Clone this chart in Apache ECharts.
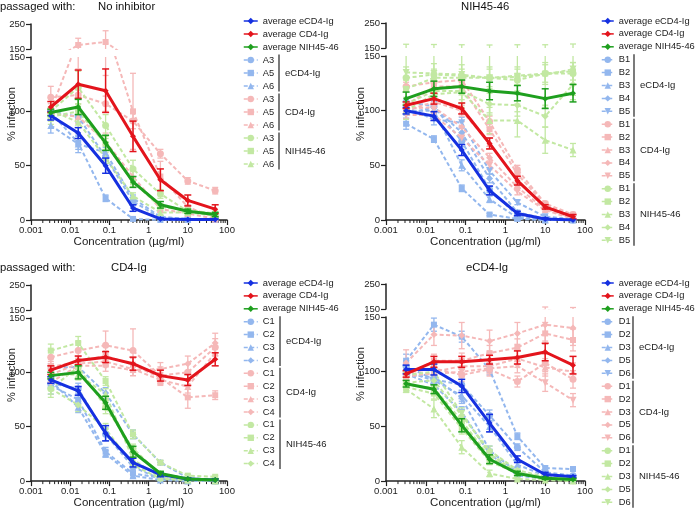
<!DOCTYPE html>
<html><head><meta charset="utf-8">
<script src="https://cdn.jsdelivr.net/npm/echarts@6/dist/echarts.min.js"></script>
<style>html,body{margin:0;padding:0;background:#fff}#c{width:696px;height:510px}</style>
</head><body><div id="c"></div>
<script>
// ---------- shared ----------
const CONC = [0.0032, 0.016, 0.08, 0.4, 2, 10, 50];
const X_TICK_LABELS = ['0.001', '0.01', '0.1', '1', '10', '100'];
const GROUPS = ['eCD4-Ig', 'CD4-Ig', 'NIH45-46'];
const AVG_NAMES = ['average eCD4-Ig', 'average CD4-Ig', 'average NIH45-46'];
const PANEL_TITLES = ['No inhibitor', 'NIH45-46', 'CD4-Ig', 'eCD4-Ig'];

// ---------- panel 1 : No inhibitor ----------
const P1_REPS = ['A3', 'A5', 'A6'];
const P1_AVG_ECD4 = [96, 80, 50, 11, 1, 0.5, 0.5];
const P1_AVG_ECD4_ERR = [4, 5, 7, 3, 1, 0.5, 0.5];
const P1_AVG_CD4 = [104, 125, 119, 77, 37, 18, 10];
const P1_AVG_CD4_ERR = [5, 13, 20, 14, 10, 5, 4];
const P1_AVG_NIH = [99, 104, 71, 35, 14, 8, 5];
const P1_AVG_NIH_ERR = [3, 7, 7, 5, 3, 2, 2];
const P1_ECD4 = [[100, 95, 58, 17, 2, 1, 1], [99, 71, 20, 1, 0, 0, 0], [87, 70, 62, 20, 3, 1, 1]];
const P1_ECD4_ERR = [[3, 5, 6, 4, 1, 1, 1], [3, 6, 3, 1, 0.5, 0.5, 0.5], [7, 8, 5, 3, 1, 1, 1]];
const P1_CD4 = [[113, 115, 107, 91, 61, 36, 27], [101, 166, 178, 100, 40, 12, 2], [98, 95, 72, 40, 10, 6, 1]];
const P1_CD4_ERR = [[10, 8, 7, 7, 4, 3, 3], [6, 27, 45, 35, 14, 5, 2], [5, 6, 8, 5, 3, 2, 1]];
const P1_NIH = [[100, 122, 87, 47, 24, 8, 5], [95, 100, 70, 35, 12, 9, 6], [101, 90, 57, 22, 7, 7, 4]];
const P1_NIH_ERR = [[12, 15, 10, 8, 4, 2, 2], [4, 6, 5, 4, 3, 2, 1], [3, 5, 5, 3, 2, 1, 1]];

// ---------- panel 2 : NIH45-46 ----------
const P2_REPS = ['B1', 'B2', 'B3', 'B4', 'B5'];
const P2_AVG_ECD4 = [100, 95, 64, 27, 6, 1, 0];
const P2_AVG_ECD4_ERR = [3, 4, 5, 4, 2, 1, 0.5];
const P2_AVG_CD4 = [105, 111, 102, 70, 36, 12, 3];
const P2_AVG_CD4_ERR = [3, 5, 5, 5, 4, 2, 2];
const P2_AVG_NIH = [111, 120, 122, 118, 116, 111, 116];
const P2_AVG_NIH_ERR = [6, 7, 6, 8, 7, 9, 8];
const P2_ECD4 = [[108, 104, 72, 28, 4, 1, 0], [88, 74, 29, 5, 1, 0, 0], [100, 100, 50, 19, 2, 0, 0], [97, 103, 80, 38, 7, 1, 0], [103, 92, 89, 45, 16, 3, 1]];
const P2_ECD4_ERR = [[4, 4, 5, 3, 1, 1, 0.5], [5, 3, 3, 1, 0.5, 0.5, 0.5], [4, 8, 5, 3, 1, 0.5, 0.5], [4, 6, 5, 4, 2, 1, 0.5], [4, 5, 5, 3, 2, 1, 0.5]];
const P2_CD4 = [[122, 126, 128, 90, 46, 15, 5], [105, 122, 122, 83, 42, 14, 4], [100, 108, 100, 70, 36, 12, 3], [102, 103, 85, 57, 30, 10, 2], [96, 96, 75, 50, 26, 9, 1]];
const P2_CD4_ERR = [[4, 6, 5, 5, 4, 2, 2], [4, 5, 6, 5, 4, 2, 1], [3, 5, 5, 5, 4, 2, 1], [3, 4, 5, 4, 3, 2, 1], [3, 4, 4, 4, 3, 2, 1]];
const P2_NIH = [[130, 133, 132, 130, 128, 134, 134], [120, 130, 130, 130, 132, 134, 136], [100, 115, 117, 91, 91, 73, 64], [106, 118, 118, 106, 105, 95, 124], [135, 134, 133, 130, 131, 133, 138]];
const P2_NIH_ERR = [[10, 10, 10, 10, 10, 10, 10], [8, 8, 8, 8, 8, 8, 8], [8, 10, 10, 12, 15, 12, 6], [6, 6, 8, 10, 10, 10, 10], [30, 30, 30, 32, 32, 30, 28]];

// ---------- panel 3 : CD4-Ig ----------
const P3_REPS = ['C1', 'C2', 'C3', 'C4'];
const P3_AVG_ECD4 = [93, 83, 44, 17, 6, 2, 1];
const P3_AVG_ECD4_ERR = [3, 4, 7, 4, 2, 1, 1];
const P3_AVG_CD4 = [102, 111, 114, 108, 97, 93, 112];
const P3_AVG_CD4_ERR = [4, 4, 5, 6, 5, 5, 6];
const P3_AVG_NIH = [97, 100, 72, 27, 7, 2, 1];
const P3_AVG_NIH_ERR = [3, 6, 6, 5, 2, 1, 1];
const P3_ECD4 = [[90, 85, 43, 13, 2, 1, 1], [88, 75, 27, 7, 3, 1, 0], [92, 68, 25, 5, 1, 0, 0], [104, 105, 81, 43, 17, 3, 1]];
const P3_ECD4_ERR = [[4, 5, 6, 3, 1, 1, 1], [8, 6, 4, 2, 1, 1, 0.5], [4, 5, 3, 2, 1, 0.5, 0.5], [4, 5, 5, 4, 2, 1, 1]];
const P3_CD4 = [[114, 120, 125, 120, 97, 100, 123], [105, 110, 115, 107, 95, 77, 79], [98, 108, 110, 103, 93, 87, 118], [91, 106, 106, 102, 103, 108, 127]];
const P3_CD4_ERR = [[6, 8, 13, 20, 8, 8, 8], [5, 5, 5, 6, 5, 10, 4], [4, 5, 5, 6, 5, 6, 6], [4, 5, 5, 5, 6, 7, 9]];
const P3_NIH = [[85, 105, 68, 30, 6, 1, 1], [120, 127, 92, 43, 17, 5, 4], [98, 98, 80, 20, 3, 1, 0], [85, 70, 48, 15, 2, 1, 0]];
const P3_NIH_ERR = [[8, 6, 6, 4, 2, 1, 1], [6, 6, 4, 4, 2, 1, 1], [5, 5, 5, 3, 1, 1, 0.5], [5, 6, 5, 3, 1, 1, 0.5]];

// ---------- panel 4 : eCD4-Ig ----------
const P4_REPS = ['D1', 'D2', 'D3', 'D5', 'D6'];
const P4_AVG_ECD4 = [102, 102, 87, 53, 20, 6, 4];
const P4_AVG_ECD4_ERR = [4, 5, 6, 8, 3, 2, 1];
const P4_AVG_CD4 = [98, 109, 109, 111, 113, 118, 106];
const P4_AVG_CD4_ERR = [3, 5, 5, 4, 6, 8, 8];
const P4_AVG_NIH = [89, 84, 51, 20, 7, 2.5, 1.5];
const P4_AVG_NIH_ERR = [3, 4, 6, 4, 2, 1, 1];
const P4_ECD4 = [[105, 93, 88, 60, 31, 8, 5], [110, 143, 132, 102, 41, 12, 11], [100, 92, 78, 50, 15, 5, 2], [97, 95, 76, 28, 8, 3, 1], [98, 88, 63, 25, 5, 2, 1]];
const P4_ECD4_ERR = [[5, 5, 5, 5, 3, 2, 1], [6, 6, 5, 5, 3, 2, 2], [4, 5, 5, 5, 2, 1, 1], [4, 5, 5, 4, 2, 1, 1], [4, 5, 5, 4, 2, 1, 1]];
const P4_CD4 = [[99, 103, 97, 102, 91, 108, 93], [97, 110, 110, 117, 122, 135, 129], [95, 100, 105, 105, 112, 104, 100], [108, 134, 133, 128, 135, 143, 140], [97, 98, 100, 103, 105, 90, 74]];
const P4_CD4_ERR = [[4, 6, 6, 6, 5, 8, 8], [5, 6, 7, 7, 8, 10, 10], [4, 6, 6, 6, 8, 8, 8], [12, 10, 12, 10, 10, 15, 16], [4, 5, 5, 5, 6, 8, 6]];
const P4_NIH = [[88, 85, 55, 22, 8, 3, 2], [86, 80, 48, 18, 7, 3, 2], [84, 66, 31, 7, 2, 1, 0], [90, 92, 60, 28, 10, 4, 2], [97, 100, 62, 25, 8, 2, 1]];
const P4_NIH_ERR = [[3, 5, 5, 3, 2, 1, 1], [3, 5, 5, 3, 2, 1, 1], [3, 8, 6, 3, 1, 1, 0.5], [3, 5, 5, 4, 2, 1, 1], [3, 5, 5, 4, 2, 1, 1]];

// ---------- assemble ----------
const PANELS = [
  {reps: P1_REPS, avg: [P1_AVG_ECD4, P1_AVG_CD4, P1_AVG_NIH], avgErr: [P1_AVG_ECD4_ERR, P1_AVG_CD4_ERR, P1_AVG_NIH_ERR], ind: [P1_ECD4, P1_CD4, P1_NIH], indErr: [P1_ECD4_ERR, P1_CD4_ERR, P1_NIH_ERR]},
  {reps: P2_REPS, avg: [P2_AVG_ECD4, P2_AVG_CD4, P2_AVG_NIH], avgErr: [P2_AVG_ECD4_ERR, P2_AVG_CD4_ERR, P2_AVG_NIH_ERR], ind: [P2_ECD4, P2_CD4, P2_NIH], indErr: [P2_ECD4_ERR, P2_CD4_ERR, P2_NIH_ERR]},
  {reps: P3_REPS, avg: [P3_AVG_ECD4, P3_AVG_CD4, P3_AVG_NIH], avgErr: [P3_AVG_ECD4_ERR, P3_AVG_CD4_ERR, P3_AVG_NIH_ERR], ind: [P3_ECD4, P3_CD4, P3_NIH], indErr: [P3_ECD4_ERR, P3_CD4_ERR, P3_NIH_ERR]},
  {reps: P4_REPS, avg: [P4_AVG_ECD4, P4_AVG_CD4, P4_AVG_NIH], avgErr: [P4_AVG_ECD4_ERR, P4_AVG_CD4_ERR, P4_AVG_NIH_ERR], ind: [P4_ECD4, P4_CD4, P4_NIH], indErr: [P4_ECD4_ERR, P4_CD4_ERR, P4_NIH_ERR]}
];

// layout (pixels)
const LAYOUT = [
  {left: 31, width: 196, lowTop: 57, lowH: 163, upTop: 24, upH: 25, legLeft: 243, legIconW: 14, legTop: 21, legStep: 13, brX: 279, titleLeft: 98, titleTop: 1, yNameX: 12, yNameY: 114},
  {left: 386, width: 199, lowTop: 56, lowH: 164, upTop: 23, upH: 25, legLeft: 601, legIconW: 12, legTop: 21, legStep: 12.9, brX: 634, titleLeft: 461, titleTop: 1, yNameX: 361, yNameY: 114},
  {left: 31, width: 196, lowTop: 318, lowH: 164, upTop: 285, upH: 25, legLeft: 243, legIconW: 14, legTop: 283, legStep: 12.9, brX: 280, titleLeft: 111, titleTop: 262, yNameX: 12, yNameY: 375},
  {left: 386, width: 199, lowTop: 317, lowH: 165, upTop: 284, upH: 25, legLeft: 601, legIconW: 12, legTop: 283, legStep: 12.9, brX: 633, titleLeft: 466, titleTop: 262, yNameX: 361, yNameY: 374}
];

const FONT = 'Liberation Sans, Arial, Helvetica, sans-serif';
const INK = '#222';
const DARK = ['#1530e0', '#e3141c', '#1e9f1e'];
const LIGHT = ['#93b7ee', '#f5b8b8', '#c2e8a2'];
const SYMBOLS = ['circle', 'rect', 'triangle', 'diamond', 'triangle'];
const SYM_ROT = [0, 0, 0, 0, 180];

const grids = [], xAxes = [], yAxes = [], series = [], legends = [], graphics = [], titles = [];

function errSeries(vals, errs, color, lw, cap, gi, z) {
  return {
    type: 'custom', xAxisIndex: gi, yAxisIndex: gi, clip: true, z: z, silent: true,
    data: CONC.map((c, i) => [c, vals[i] - errs[i], vals[i] + errs[i]]),
    encode: {x: 0, y: [1, 2]},
    renderItem: function (params, api) {
      const x = api.value(0);
      const a = api.coord([x, api.value(1)]);
      const b = api.coord([x, api.value(2)]);
      const st = {stroke: color, lineWidth: lw};
      return {type: 'group', children: [
        {type: 'line', shape: {x1: a[0], y1: a[1], x2: b[0], y2: b[1]}, style: st},
        {type: 'line', shape: {x1: a[0] - cap, y1: a[1], x2: a[0] + cap, y2: a[1]}, style: st},
        {type: 'line', shape: {x1: b[0] - cap, y1: b[1], x2: b[0] + cap, y2: b[1]}, style: st}
      ]};
    }
  };
}

function lineSeries(name, vals, color, o, gi) {
  return {
    type: 'line', name: name, xAxisIndex: gi, yAxisIndex: gi, clip: true, z: o.z, silent: true,
    data: CONC.map((c, i) => [c, vals[i]]),
    symbol: o.symbol, symbolSize: o.size, symbolRotate: o.rot || 0, showSymbol: true,
    lineStyle: {color: color, width: o.width, type: o.dash ? [4, 2.5] : 'solid'},
    itemStyle: {color: color, borderWidth: 0}
  };
}

function addPair(p, name, vals, errs, color, o) {
  const gLow = p * 2, gUp = p * 2 + 1;
  series.push(errSeries(vals, errs, color, o.ew, o.cap, gLow, o.z - 1));
  series.push(lineSeries(name, vals, color, o, gLow));
  const top = Math.max.apply(null, vals.map((v, i) => v + errs[i]));
  if (top > 150) {
    series.push(errSeries(vals, errs, color, o.ew, o.cap, gUp, o.z - 1));
    series.push(lineSeries(name + '#up', vals, color, o, gUp));
  }
}

const axisTxt = {color: INK, fontSize: 9.5, fontFamily: FONT};

PANELS.forEach((P, p) => {
  const L = LAYOUT[p];
  grids.push({left: L.left, top: L.lowTop, width: L.width, height: L.lowH});
  grids.push({left: L.left, top: L.upTop, width: L.width, height: L.upH});
  const gLow = p * 2;
  xAxes.push({
    type: 'log', logBase: 10, gridIndex: gLow, min: 0.001, max: 100,
    axisLine: {onZero: false, lineStyle: {color: INK, width: 1.5}},
    axisTick: {show: true, length: 5, lineStyle: {color: INK, width: 1.2}},
    axisLabel: {margin: 5, ...axisTxt, formatter: v => X_TICK_LABELS[Math.round(Math.log10(v)) + 3]},
    splitLine: {show: false},
    name: 'Concentration (\u00b5g/ml)', nameLocation: 'middle', nameGap: 14,
    nameTextStyle: {color: INK, fontSize: 11.5, fontFamily: FONT}
  });
  xAxes.push({type: 'log', logBase: 10, gridIndex: gLow + 1, min: 0.001, max: 100, show: false});
  yAxes.push({
    type: 'value', gridIndex: gLow, min: 0, max: 150, interval: 50,
    axisLine: {show: true, onZero: false, lineStyle: {color: INK, width: 1.5}},
    axisTick: {show: true, length: 5, lineStyle: {color: INK, width: 1.2}},
    axisLabel: {margin: 6, ...axisTxt}, splitLine: {show: false}
  });
  yAxes.push({
    type: 'value', gridIndex: gLow + 1, min: 150, max: 250, interval: 100,
    axisLine: {show: true, onZero: false, lineStyle: {color: INK, width: 1.5}},
    axisTick: {show: true, length: 5, lineStyle: {color: INK, width: 1.2}},
    axisLabel: {margin: 6, ...axisTxt}, splitLine: {show: false}
  });

  // minor log ticks on the x axis (drawn through the axis scale)
  const minor = [];
  for (let k = -3; k < 2; k++) for (let d = 2; d <= 9; d++) minor.push([d * Math.pow(10, k), 0]);
  series.push({
    type: 'custom', xAxisIndex: gLow, yAxisIndex: gLow, clip: false, silent: true, z: 1,
    data: minor,
    renderItem: function (params, api) {
      const q = api.coord([api.value(0), 0]);
      return {type: 'line', shape: {x1: q[0], y1: q[1], x2: q[0], y2: q[1] + 3}, style: {stroke: INK, lineWidth: 1}};
    }
  });

  // individual replicate series (behind)
  const legendNames = AVG_NAMES.slice();
  for (let g = 0; g < 3; g++) {
    P.reps.forEach((r, j) => {
      const nm = 'P' + p + '|' + GROUPS[g] + '|' + r;
      legendNames.push(nm);
      addPair(p, nm, P.ind[g][j], P.indErr[g][j], LIGHT[g],
        {symbol: SYMBOLS[j], rot: SYM_ROT[j], size: SYMBOLS[j] === 'rect' ? 6 : 7, width: 2, dash: true, ew: 1.3, cap: 3, z: 3});
    });
  }
  // averages (front)
  for (let g = 0; g < 3; g++) {
    addPair(p, AVG_NAMES[g], P.avg[g], P.avgErr[g], DARK[g],
      {symbol: 'diamond', size: 6, width: 3, dash: false, ew: 1.5, cap: 3.5, z: 6});
  }

  // legend
  const lh = L.legStep;
  legends.push({
    orient: 'vertical', left: L.legLeft, top: L.legTop - lh / 2, padding: 0, itemGap: 0,
    itemWidth: L.legIconW, itemHeight: 8, selectedMode: false,
    data: legendNames,
    formatter: n => n.indexOf('|') >= 0 ? n.split('|')[2] : n,
    lineStyle: {width: 1.5},
    textStyle: {color: INK, fontSize: 9.3, fontFamily: FONT, lineHeight: lh}
  });
  // group brackets + labels
  const nR = P.reps.length;
  for (let g = 0; g < 3; g++) {
    const i0 = 3 + g * nR, i1 = i0 + nR - 1;
    const y0 = L.legTop + i0 * lh - 5.5, y1 = L.legTop + i1 * lh + 5.5;
    graphics.push({type: 'line', shape: {x1: L.brX, y1: y0, x2: L.brX, y2: y1}, style: {stroke: '#333', lineWidth: 1.3}, silent: true});
    graphics.push({type: 'text', x: L.brX + 6, y: (y0 + y1) / 2, style: {text: GROUPS[g], fill: INK, font: '9.5px ' + FONT, verticalAlign: 'middle', align: 'left'}, silent: true});
  }
  // y axis title
  graphics.push({type: 'text', x: L.yNameX, y: L.yNameY, rotation: Math.PI / 2,
    style: {text: '% infection', fill: INK, font: '11px ' + FONT, align: 'center', verticalAlign: 'middle'}, silent: true});

  titles.push({text: PANEL_TITLES[p], left: L.titleLeft, top: L.titleTop, padding: 0,
    textStyle: {color: '#111', fontSize: 11.3, fontWeight: 'normal', fontFamily: FONT}});
});
titles.push({text: 'passaged with:', left: 0, top: 1, padding: 0, textStyle: {color: '#111', fontSize: 11.3, fontWeight: 'normal', fontFamily: FONT}});
titles.push({text: 'passaged with:', left: 0, top: 262, padding: 0, textStyle: {color: '#111', fontSize: 11.3, fontWeight: 'normal', fontFamily: FONT}});

const chart = echarts.init(document.getElementById('c'), null, {renderer: 'canvas', width: 696, height: 510});
chart.setOption({
  animation: false,
  backgroundColor: '#fff',
  title: titles,
  grid: grids,
  xAxis: xAxes,
  yAxis: yAxes,
  legend: legends,
  graphic: graphics,
  series: series
});
</script></body></html>
